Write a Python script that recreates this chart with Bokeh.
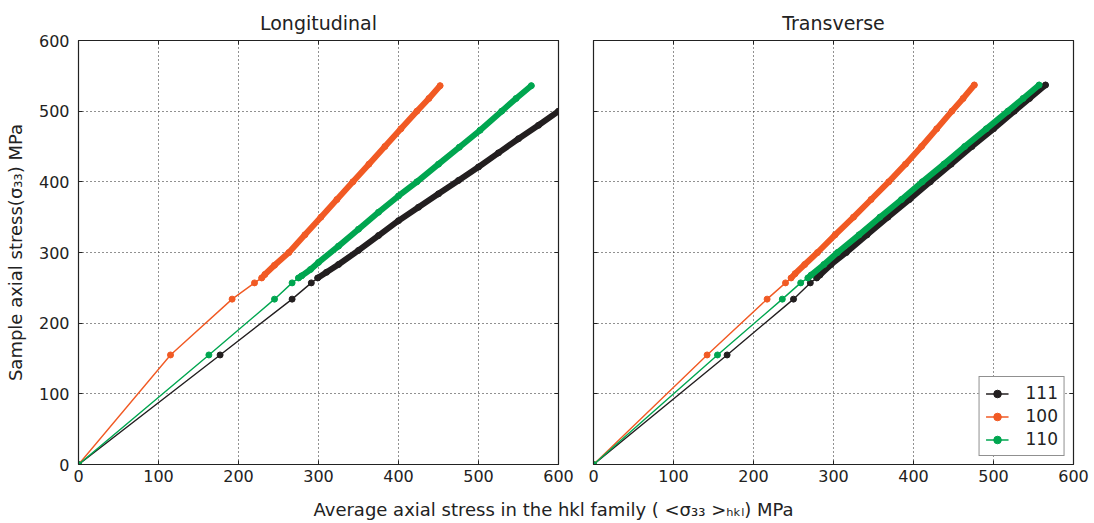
from bokeh.plotting import figure
from bokeh.models import (Range1d, LinearAxis, FixedTicker, CustomJSTickFormatter,
                          Legend, LegendItem, Label)
from bokeh.layouts import row, column
from bokeh.embed import file_html
from bokeh.resources import INLINE

# ---------------- data ----------------
TICKS = [0, 100, 200, 300, 400, 500, 600]
FAMILIES = ["111", "100", "110"]
COLORS = {"111": "#231f20", "100": "#f15a24", "110": "#00a650"}
N_SPARSE = 4  # isolated load steps before the densely sampled part

long_111_x = [0, 177, 267, 291, 299, 310, 325, 350, 375, 400, 425, 450, 475, 500, 525, 550, 575, 600, 623, 645]
long_111_y = [0, 155, 234, 257, 264, 272, 283, 303, 324, 345, 364, 383, 402, 421, 441, 461, 480, 500, 518, 536]
long_100_x = [0, 115, 192, 220, 229, 233, 245, 263, 283, 303, 323, 343, 363, 383, 403, 423, 438, 452]
long_100_y = [0, 155, 234, 257, 264, 269, 282, 300, 325, 350, 375, 400, 425, 450, 475, 500, 518, 536]
long_110_x = [0, 163, 245, 267, 275, 279, 290, 300, 325, 350, 375, 400, 423, 450, 476, 502, 529, 547, 566]
long_110_y = [0, 155, 234, 257, 264, 267, 276, 286, 309, 333, 357, 380, 400, 425, 449, 473, 500, 518, 536]

trans_111_x = [0, 167, 250, 271, 279, 283, 297, 316, 342, 368, 395, 421, 447, 473, 500, 526, 545, 565]
trans_111_y = [0, 155, 234, 257, 264, 268, 283, 300, 325, 350, 375, 400, 425, 450, 475, 500, 518, 537]
trans_100_x = [0, 142, 217, 240, 247, 252, 264, 280, 302, 325, 347, 369, 390, 410, 429, 448, 462, 476]
trans_100_y = [0, 155, 234, 257, 264, 270, 283, 300, 325, 350, 375, 400, 425, 450, 475, 500, 518, 537]
trans_110_x = [0, 155, 236, 259, 268, 272, 288, 305, 332, 358, 385, 411, 438, 464, 491, 518, 537, 557]
trans_110_y = [0, 155, 234, 257, 264, 268, 283, 300, 325, 350, 375, 400, 425, 450, 475, 500, 518, 537]

LONG = {"111": (long_111_x, long_111_y), "100": (long_100_x, long_100_y), "110": (long_110_x, long_110_y)}
TRANS = {"111": (trans_111_x, trans_111_y), "100": (trans_100_x, trans_100_y), "110": (trans_110_x, trans_110_y)}

FONT = "DejaVu Sans"
FRAME_W, FRAME_H = 480, 424


def make_panel(title, data, show_ylabels, border_left, border_right, ylabel=None):
    p = figure(width=border_left + FRAME_W + border_right, height=40 + FRAME_H + 29,
               frame_width=FRAME_W, frame_height=FRAME_H,
               min_border_left=border_left, min_border_right=border_right,
               min_border_top=40, min_border_bottom=29,
               x_range=Range1d(0, 600), y_range=Range1d(0, 600),
               output_backend="svg", toolbar_location=None, title=title)
    p.title.align = "center"
    p.title.text_font = FONT
    p.title.text_font_style = "normal"
    p.title.text_font_size = "19px"
    p.title.text_color = "#222222"
    p.title.standoff = 13
    p.outline_line_color = "#222222"
    p.outline_line_width = 1.2
    p.background_fill_color = "white"
    p.border_fill_color = "white"

    for ax in (p.xaxis[0], p.yaxis[0]):
        ax.ticker = FixedTicker(ticks=TICKS)
    for loc in ("above", "right"):
        ax = LinearAxis(ticker=FixedTicker(ticks=TICKS),
                        formatter=CustomJSTickFormatter(code="return ''"))
        p.add_layout(ax, loc)
    for ax in p.axis:
        ax.axis_line_color = None
        ax.major_tick_in = 4
        ax.major_tick_out = 0
        ax.minor_tick_line_color = None
        ax.major_tick_line_color = "#222222"
        ax.major_label_text_font = FONT
        ax.major_label_text_font_size = "16px"
        ax.major_label_text_color = "#222222"
    p.above[0].major_label_standoff = 0
    p.right[0].major_label_standoff = 0
    p.xaxis[0].major_label_standoff = 7
    p.yaxis[0].major_label_standoff = 9
    if not show_ylabels:
        p.yaxis[0].formatter = CustomJSTickFormatter(code="return ''")
        p.yaxis[0].major_label_standoff = 0
    if ylabel:
        p.yaxis[0].axis_label = ylabel
        p.yaxis[0].axis_label_text_font = FONT
        p.yaxis[0].axis_label_text_font_style = "normal"
        p.yaxis[0].axis_label_text_font_size = "18px"
        p.yaxis[0].axis_label_text_color = "#222222"
        p.yaxis[0].axis_label_standoff = 10

    p.grid.grid_line_color = "#222222"
    p.grid.grid_line_dash = "1 3"
    p.grid.grid_line_width = 1
    p.grid.ticker = FixedTicker(ticks=TICKS)

    items = []
    for fam in FAMILIES:
        xs, ys = data[fam]
        c = COLORS[fam]
        p.line(xs[N_SPARSE:], ys[N_SPARSE:], line_color=c, line_width=6,
               line_cap="round", line_join="round")
        ln = p.line(xs, ys, line_color=c, line_width=1.4)
        sc = p.scatter(xs, ys, marker="circle", size=6, fill_color=c, line_color=c)
        items.append(LegendItem(label=fam, renderers=[ln, sc]))
    return p, items


p1, _ = make_panel("Longitudinal", LONG, True, 78, 17,
                   ylabel="Sample axial stress(\u03c3\u2083\u2083) MPa")
p2, items = make_panel("Transverse", TRANS, False, 18, 21)

legend = Legend(items=items, location="bottom_right")
legend.label_text_font = FONT
legend.label_text_font_size = "17px"
legend.label_text_color = "#222222"
legend.border_line_color = "#222222"
legend.border_line_width = 1
legend.background_fill_alpha = 1
legend.glyph_width = 23
legend.glyph_height = 19
legend.label_height = 19
legend.label_standoff = 17
legend.spacing = 3
legend.padding = 6
legend.margin = 8
p2.add_layout(legend, "center")

lab = figure(width=1094, height=30, x_range=Range1d(0, 1), y_range=Range1d(0, 1),
             x_axis_type=None, y_axis_type=None, output_backend="svg",
             toolbar_location=None, min_border=0)
lab.outline_line_color = None
lab.grid.visible = False
lab.add_layout(Label(x=553, y=14, x_units="screen", y_units="screen",
                     text="Average axial stress in the hkl family ( <\u03c3\u2083\u2083 >\u2095\u2096\u2097) MPa",
                     text_font=FONT, text_font_size="18px", text_color="#222222",
                     text_align="center", text_baseline="middle"))

layout = column(row(p1, p2), lab)
open("out.html", "w").write(file_html(layout, INLINE))
